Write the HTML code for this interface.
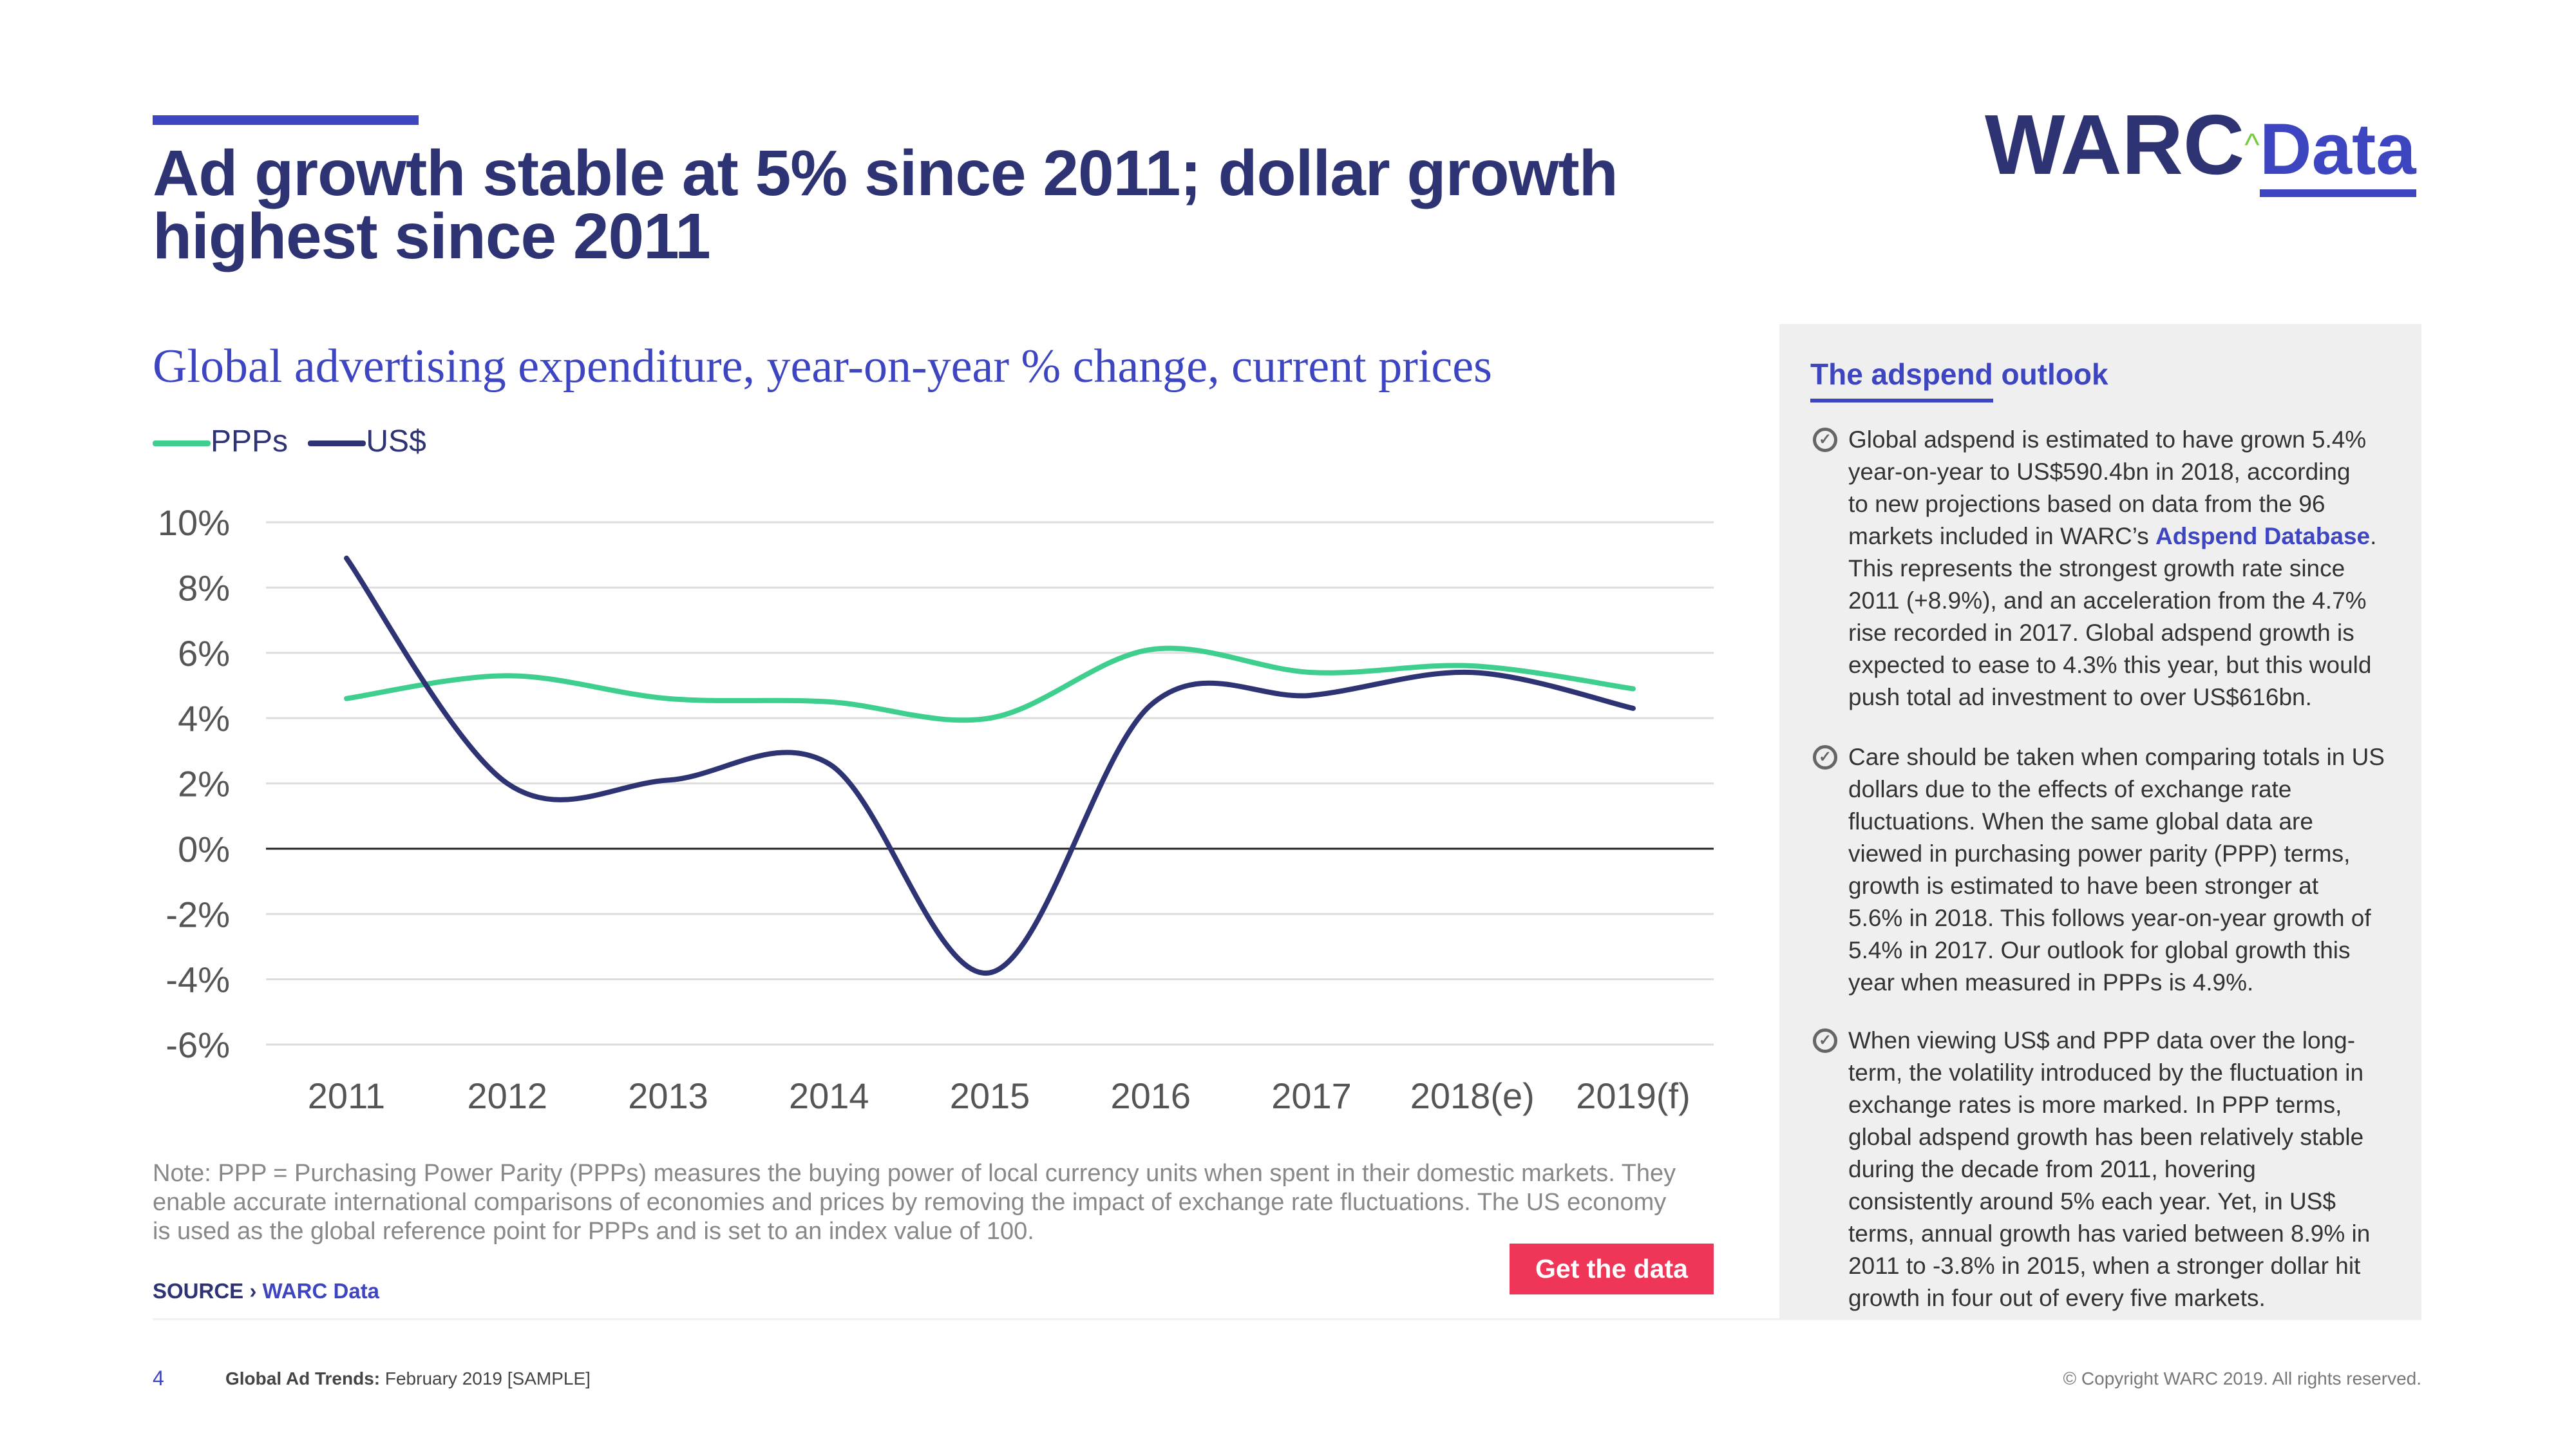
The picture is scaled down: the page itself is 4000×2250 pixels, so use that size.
<!DOCTYPE html>
<html><head><meta charset="utf-8"><style>
body{margin:0;width:4000px;height:2250px;background:#fff;position:relative;overflow:hidden;font-family:"Liberation Sans",sans-serif}
.a{position:absolute;white-space:nowrap}
.side p{margin:0;position:absolute;left:2870px;font-size:37px;line-height:50px;color:#333}
.chk{position:absolute;left:2815px;width:38px;height:38px;border:5px solid #666;border-radius:50%;box-sizing:border-box;font-size:24px;line-height:28px;text-align:center;color:#666;font-weight:bold}
</style></head><body>
<div class="a" style="left:237px;top:179px;width:413px;height:15px;background:#3d45c0"></div>
<div class="a" style="left:237px;top:220px;font-size:100px;line-height:98px;font-weight:bold;color:#2e3374;letter-spacing:-1px">Ad growth stable at 5% since 2011; dollar growth<br>highest since 2011</div>
<div class="a" style="left:3082px;top:155px;font-size:132px;font-weight:bold;color:#2e3374;line-height:140px">WARC<span style="color:#7ac943;font-size:50px;vertical-align:top;font-weight:normal">^</span><span style="color:#3d45c0;font-size:112px;border-bottom:12px solid #3d45c0">Data</span></div>
<div class="a" style="left:237px;top:527px;font-family:'Liberation Serif',serif;font-size:74px;color:#3d45c0">Global advertising expenditure, year-on-year % change, current prices</div>
<div class="a" style="left:237px;top:660px;font-size:48px;color:#2e3374;line-height:52px">
<span><span style="display:inline-block;width:90px;height:9px;background:#3ecf8e;vertical-align:middle;border-radius:4px"></span>PPPs</span>
<span style="margin-left:18px"><span style="display:inline-block;width:90px;height:9px;background:#2e3374;vertical-align:middle;border-radius:4px"></span>US$</span></div>
<svg id="chart" class="a" style="left:0;top:0" width="2800" height="1800"></svg>
<div class="a" style="left:237px;top:1800px;font-size:38px;line-height:45px;color:#888">Note: PPP = Purchasing Power Parity (PPPs) measures the buying power of local currency units when spent in their domestic markets. They<br>enable accurate international comparisons of economies and prices by removing the impact of exchange rate fluctuations. The US economy<br>is used as the global reference point for PPPs and is set to an index value of 100.</div>
<div class="a" style="left:237px;top:1986px;font-size:33px;font-weight:bold;color:#2e3374">SOURCE › <span style="color:#3d45c0">WARC Data</span></div>
<div class="a" style="left:2344px;top:1931px;width:317px;height:79px;background:#ef3659;color:#fff;font-size:41px;font-weight:bold;text-align:center;line-height:79px">Get the data</div>
<div class="a" style="left:237px;top:2047px;width:3523px;height:3px;background:#f2f2f2"></div>
<div class="a side" style="left:2763px;top:503px;width:997px;height:1545px;background:#efefef"></div>
<div class="side">
<div class="a" style="left:2811px;top:554px;font-size:46px;font-weight:bold;color:#3d45c0">The adspend outlook</div>
<div class="a" style="left:2811px;top:619px;width:284px;height:6px;background:#3d45c0"></div>
<div class="chk" style="top:664px">✓</div>
<p style="top:658px">Global adspend is estimated to have grown 5.4%<br>year-on-year to US$590.4bn in 2018, according<br>to new projections based on data from the 96<br>markets included in WARC’s <b style="color:#3d45c0">Adspend Database</b>.<br>This represents the strongest growth rate since<br>2011 (+8.9%), and an acceleration from the 4.7%<br>rise recorded in 2017. Global adspend growth is<br>expected to ease to 4.3% this year, but this would<br>push total ad investment to over US$616bn.</p>
<div class="chk" style="top:1157px">✓</div>
<p style="top:1151px">Care should be taken when comparing totals in US<br>dollars due to the effects of exchange rate<br>fluctuations. When the same global data are<br>viewed in purchasing power parity (PPP) terms,<br>growth is estimated to have been stronger at<br>5.6% in 2018. This follows year-on-year growth of<br>5.4% in 2017. Our outlook for global growth this<br>year when measured in PPPs is 4.9%.</p>
<div class="chk" style="top:1597px">✓</div>
<p style="top:1591px">When viewing US$ and PPP data over the long-<br>term, the volatility introduced by the fluctuation in<br>exchange rates is more marked. In PPP terms,<br>global adspend growth has been relatively stable<br>during the decade from 2011, hovering<br>consistently around 5% each year. Yet, in US$<br>terms, annual growth has varied between 8.9% in<br>2011 to -3.8% in 2015, when a stronger dollar hit<br>growth in four out of every five markets.</p>
</div>
<div class="a" style="left:237px;top:2122px;font-size:32px;color:#3d45c0">4</div>
<div class="a" style="left:350px;top:2125px;font-size:28px;color:#444"><b>Global Ad Trends:</b> February 2019 [SAMPLE]</div>
<div class="a" style="right:240px;top:2125px;font-size:28px;color:#777">© Copyright WARC 2019. All rights reserved.</div>
<script>
const categories=["2011","2012","2013","2014","2015","2016","2017","2018(e)","2019(f)"];
const pppValues=[4.6,5.3,4.6,4.5,4.0,6.1,5.4,5.6,4.9];
const usdValues=[8.9,2.0,2.1,2.6,-3.8,4.4,4.7,5.4,4.3];
const yTicks=[10,8,6,4,2,0,-2,-4,-6];
const NS="http://www.w3.org/2000/svg";
const svg=document.getElementById('chart');
const X0=413,X1=2661,Y0=811,Y1=1622;
const xS=i=>538+i*(2536-538)/(categories.length-1);
const yS=v=>Y0+(10-v)*(Y1-Y0)/16;
function mk(t,a){const e=document.createElementNS(NS,t);for(const k in a)e.setAttribute(k,a[k]);svg.appendChild(e);return e;}
yTicks.forEach(v=>{
 const l=mk('line',{x1:X0,x2:X1,y1:yS(v),y2:yS(v),stroke:v===0?'#222':'#ddd','stroke-width':3});
 
 
 const t=mk('text',{x:357,y:yS(v)+20,'text-anchor':'end','font-size':56,fill:'#555','font-family':'Liberation Sans, sans-serif'});
 t.textContent=v+'%';
 
 
});
categories.forEach((c,i)=>{
 const t=mk('text',{x:xS(i),y:1721,'text-anchor':'middle','font-size':56,fill:'#555','font-family':'Liberation Sans, sans-serif'});
 t.textContent=c;
 
 
});
function path(vals){
 const p=vals.map((v,i)=>[xS(i),yS(v)]);
 let d='M'+p[0][0]+','+p[0][1];
 for(let i=0;i<p.length-1;i++){
  const a=p[Math.max(i-1,0)],b=p[i],c=p[i+1],e=p[Math.min(i+2,p.length-1)];
  const k=1/6;
  d+=` C${b[0]+(c[0]-a[0])*k},${b[1]+(c[1]-a[1])*k} ${c[0]-(e[0]-b[0])*k},${c[1]-(e[1]-b[1])*k} ${c[0]},${c[1]}`;
 }
 return d;
}
const pl=mk('path',{d:path(pppValues),fill:'none',stroke:'#3ecf8e','stroke-width':8,'stroke-linecap':'round'});


const ul=mk('path',{d:path(usdValues),fill:'none',stroke:'#2e3374','stroke-width':8,'stroke-linecap':'round'});


</script>
</body></html>
